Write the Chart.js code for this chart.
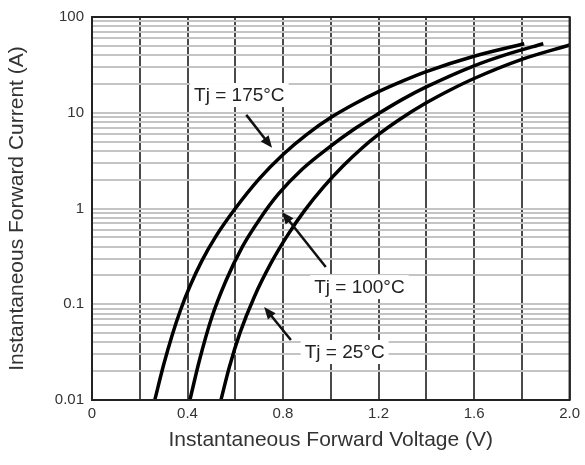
<!DOCTYPE html>
<html>
<head>
<meta charset="utf-8">
<script src="https://cdn.jsdelivr.net/npm/chart.js@4"></script>
<style>
  html, body { margin: 0; padding: 0; background: #fff; }
  #wrap { width: 585px; height: 465px; }
</style>
</head>
<body>
<div id="wrap"><canvas id="vfChart" width="585" height="465"></canvas></div>
<script>
// Forward voltage (V) vs forward current (A)
const v175 = [0.263, 0.30, 0.335, 0.37, 0.41, 0.46, 0.52, 0.60, 0.70, 0.80, 0.90, 1.00, 1.10, 1.20, 1.30, 1.40, 1.60, 1.81];
const i175 = [0.01, 0.0233, 0.047, 0.086, 0.154, 0.284, 0.518, 1.0, 2.04, 3.67, 5.96, 8.9, 12.4, 16.6, 21.4, 26.9, 38.9, 52.5];

const v100 = [0.41, 0.45, 0.50, 0.56, 0.63, 0.70, 0.78, 0.88, 0.99, 1.10, 1.20, 1.30, 1.40, 1.60, 1.75, 1.89];
const i100 = [0.01, 0.026, 0.071, 0.174, 0.40, 0.76, 1.41, 2.57, 4.3, 6.8, 9.8, 13.8, 18.6, 30.9, 41.7, 52.5];

const v25 = [0.54, 0.575, 0.62, 0.68, 0.75, 0.82, 0.89, 0.97, 1.05, 1.13, 1.20, 1.28, 1.40, 1.50, 1.60, 1.80, 2.00];
const i25 = [0.01, 0.022, 0.0505, 0.12, 0.27, 0.53, 0.95, 1.68, 2.76, 4.26, 5.93, 8.26, 12.7, 17.3, 22.8, 36.1, 51.0];

const xTickLabels = ['0', '0.4', '0.8', '1.2', '1.6', '2.0'];
const yTickLabels = ['0.01', '0.1', '1', '10', '100'];
const curveNames = ['Tj = 175°C', 'Tj = 100°C', 'Tj = 25°C'];

// callouts: label centre, arrow tail and arrow tip, in data units
const callouts = [
    { text: curveNames[0], lx: 0.617, ly: 15.3, tx: 0.646, ty: 9.5, hx: 0.754, hy: 4.3 },
    { text: curveNames[1], lx: 1.12, ly: 0.151, tx: 0.979, ty: 0.245, hx: 0.796, hy: 0.92 },
    { text: curveNames[2], lx: 1.058, ly: 0.0317, tx: 0.833, ty: 0.0424, hx: 0.721, hy: 0.0935 }
];

const FONT = '"Liberation Sans", Arial, sans-serif';

function pts(xs, ys) {
    return xs.map(function(x, k) { return { x: x, y: ys[k] }; });
}

// 1..9 x 10^n grid positions between 0.01 and 100
const yGridValues = [];
[0.01, 0.1, 1, 10].forEach(function(d) {
    for (let m = 1; m < 10; m++) yGridValues.push(+(m * d).toPrecision(3));
});
yGridValues.push(100);

const calloutPlugin = {
    id: 'callouts',
    afterDatasetsDraw: function(chart) {
        const c = chart.ctx, a = chart.chartArea;
        const sx = chart.scales.x, sy = chart.scales.y;
        c.save();
        // frame round the plot
        c.strokeStyle = '#222';
        c.lineWidth = 2;
        c.strokeRect(a.left, a.top, a.right - a.left, a.bottom - a.top);

        c.font = '19px ' + FONT;
        c.textAlign = 'center';
        c.textBaseline = 'middle';
        callouts.forEach(function(o) {
            const lx = sx.getPixelForValue(o.lx), ly = sy.getPixelForValue(o.ly);
            const w = c.measureText(o.text).width;
            c.fillStyle = '#fff';
            c.fillRect(lx - w / 2 - 4, ly - 12, w + 8, 24);
            c.fillStyle = '#222';
            c.fillText(o.text, lx, ly + 1);

            const x1 = sx.getPixelForValue(o.tx), y1 = sy.getPixelForValue(o.ty);
            const x2 = sx.getPixelForValue(o.hx), y2 = sy.getPixelForValue(o.hy);
            const ang = Math.atan2(y2 - y1, x2 - x1);
            const cs = Math.cos(ang), sn = Math.sin(ang);
            c.strokeStyle = '#111';
            c.lineWidth = 2.5;
            c.beginPath();
            c.moveTo(x1, y1);
            c.lineTo(x2 - 9 * cs, y2 - 9 * sn);
            c.stroke();
            c.fillStyle = '#111';
            c.beginPath();
            c.moveTo(x2, y2);
            c.lineTo(x2 - 12 * cs + 5 * sn, y2 - 12 * sn - 5 * cs);
            c.lineTo(x2 - 12 * cs - 5 * sn, y2 - 12 * sn + 5 * cs);
            c.closePath();
            c.fill();
        });
        c.restore();
    }
};

const lineStyle = {
    borderColor: '#000',
    borderWidth: 3.5,
    pointRadius: 0,
    fill: false,
    cubicInterpolationMode: 'monotone'
};

const ctxVf = document.getElementById('vfChart').getContext('2d');
const vfChart = new Chart(ctxVf, {
    type: 'line',
    data: {
        datasets: [
            Object.assign({ label: curveNames[0], data: pts(v175, i175) }, lineStyle),
            Object.assign({ label: curveNames[1], data: pts(v100, i100) }, lineStyle),
            Object.assign({ label: curveNames[2], data: pts(v25, i25) }, lineStyle)
        ]
    },
    options: {
        responsive: false,
        animation: false,
        layout: { padding: { top: 17, right: 13, left: 0, bottom: 0 } },
        plugins: {
            legend: { display: false },
            tooltip: { enabled: false }
        },
        scales: {
            x: {
                type: 'linear',
                min: 0,
                max: 2.0,
                afterFit: function(s) { s.height = 65; },
                border: { display: false },
                grid: { color: '#4a4a4a', lineWidth: 2, drawTicks: false },
                ticks: {
                    stepSize: 0.2,
                    autoSkip: false,
                    maxRotation: 0,
                    padding: 5,
                    color: '#333',
                    font: { family: FONT, size: 15 },
                    callback: function(value) {
                        const k = Math.round(value / 0.4);
                        return Math.abs(value - k * 0.4) < 1e-6 ? xTickLabels[k] : '';
                    }
                },
                title: {
                    display: true,
                    text: 'Instantaneous Forward Voltage (V)',
                    color: '#333',
                    font: { family: FONT, size: 21 },
                    padding: { top: 4, bottom: 12 }
                }
            },
            y: {
                type: 'logarithmic',
                min: 0.01,
                max: 100,
                afterFit: function(s) { s.width = 92; },
                afterBuildTicks: function(s) {
                    s.ticks = yGridValues.map(function(v) { return { value: v }; });
                },
                border: { display: false },
                grid: { color: '#c4c4c4', lineWidth: 2, drawTicks: false },
                ticks: {
                    autoSkip: false,
                    padding: 8,
                    color: '#333',
                    font: { family: FONT, size: 15 },
                    callback: function(value) {
                        const k = Math.round(Math.log10(value)) + 2;
                        return Math.abs(Math.log10(value) - (k - 2)) < 1e-6 ? yTickLabels[k] : '';
                    }
                },
                title: {
                    display: true,
                    text: 'Instantaneous Forward Current (A)',
                    color: '#333',
                    font: { family: FONT, size: 21 },
                    padding: { top: 5, bottom: 0 }
                }
            }
        }
    },
    plugins: [calloutPlugin]
});
</script>
</body>
</html>
